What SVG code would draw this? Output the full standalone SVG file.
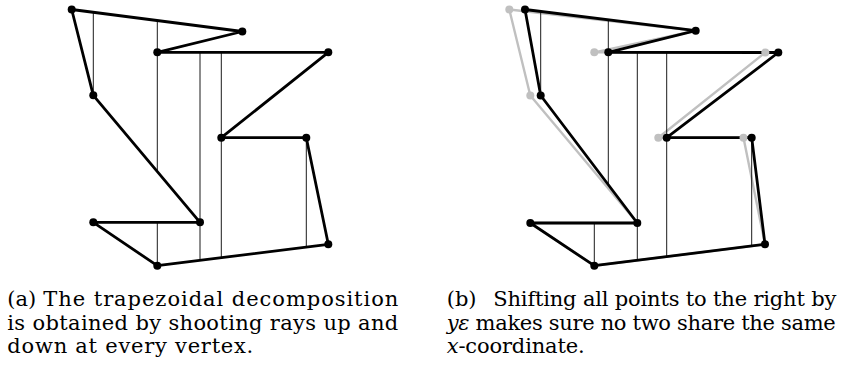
<svg xmlns="http://www.w3.org/2000/svg" width="841" height="371" viewBox="0 0 841 371">
<style>
.edge{fill:none;stroke:#000;stroke-width:2.8;stroke-linejoin:round;stroke-linecap:round}
.gedge{fill:none;stroke:#c0c0c0;stroke-width:2.4;stroke-linejoin:round;stroke-linecap:round}
.ray{stroke:#000;stroke-width:0.9;fill:none}
.v{fill:#000}
.gv{fill:#c0c0c0}
.it{font-style:italic}
.cap{font-family:'DejaVu Serif',serif;font-size:21px;fill:#000}
</style>
<rect width="841" height="371" fill="#fff"/>
<g id="panel-a">
<g id="connectors-a">
<line class="ray" x1="93.3" y1="12.3" x2="93.3" y2="95.3"/>
<line class="ray" x1="157.3" y1="20.5" x2="157.3" y2="171.5"/>
<line class="ray" x1="157.3" y1="222.3" x2="157.3" y2="265.7"/>
<line class="ray" x1="200" y1="52.3" x2="200" y2="260.4"/>
<line class="ray" x1="221.3" y1="52.3" x2="221.3" y2="257.7"/>
<line class="ray" x1="306.3" y1="137.7" x2="306.3" y2="247.1"/>
<polygon class="edge" points="71.7,9.5 242.3,31.5 157.3,52.3 328.3,52.3 221.3,137.7 306.3,137.7 328.3,244.3 157.3,265.7 93.3,222.3 200,222.3 93.3,95.3"/>
</g>
<g id="a-A"><circle class="v" cx="71.7" cy="9.5" r="4"/></g>
<g id="a-B"><circle class="v" cx="242.3" cy="31.5" r="4"/></g>
<g id="a-C"><circle class="v" cx="157.3" cy="52.3" r="4"/></g>
<g id="a-D"><circle class="v" cx="328.3" cy="52.3" r="4"/></g>
<g id="a-E"><circle class="v" cx="221.3" cy="137.7" r="4"/></g>
<g id="a-F"><circle class="v" cx="306.3" cy="137.7" r="4"/></g>
<g id="a-G"><circle class="v" cx="328.3" cy="244.3" r="4"/></g>
<g id="a-H"><circle class="v" cx="157.3" cy="265.7" r="4"/></g>
<g id="a-I"><circle class="v" cx="93.3" cy="222.3" r="4"/></g>
<g id="a-J"><circle class="v" cx="200" cy="222.3" r="4"/></g>
<g id="a-K"><circle class="v" cx="93.3" cy="95.3" r="4"/></g>
</g>
<g id="panel-b">
<g id="connectors-b">
<polygon class="gedge" points="509.3,9.5 695.7,30.7 594.3,52.3 765.3,52.5 658.3,137.7 743.5,137.7 765,244.3 594.3,265.7 530.3,223 637.3,223 530.3,95.5"/>
<line class="ray" x1="540.7" y1="11.5" x2="540.7" y2="95.5"/>
<line class="ray" x1="608.3" y1="19.8" x2="608.3" y2="184.7"/>
<line class="ray" x1="594.3" y1="223" x2="594.3" y2="265.7"/>
<line class="ray" x1="637.3" y1="52.3" x2="637.3" y2="260.3"/>
<line class="ray" x1="666.7" y1="52.3" x2="666.7" y2="256.6"/>
<line class="ray" x1="751.7" y1="137.7" x2="751.7" y2="246"/>
<polygon class="edge" points="525,9.5 695.7,30.7 608.3,52.3 778.3,52.5 666.7,137.7 751.7,137.7 765,244.3 594.3,265.7 530.3,223 637.3,223 540.7,95.5"/>
</g>
<g id="b-gA"><circle class="gv" cx="509.3" cy="9.5" r="4"/></g>
<g id="b-gC"><circle class="gv" cx="594.3" cy="52.3" r="4"/></g>
<g id="b-gD"><circle class="gv" cx="765.3" cy="52.5" r="4"/></g>
<g id="b-gE"><circle class="gv" cx="658.3" cy="137.7" r="4"/></g>
<g id="b-gF"><circle class="gv" cx="743.5" cy="137.7" r="4"/></g>
<g id="b-gK"><circle class="gv" cx="530.3" cy="95.5" r="4"/></g>
<g id="b-A"><circle class="v" cx="525" cy="9.5" r="4"/></g>
<g id="b-B"><circle class="v" cx="695.7" cy="30.7" r="4"/></g>
<g id="b-C"><circle class="v" cx="608.3" cy="52.3" r="4"/></g>
<g id="b-D"><circle class="v" cx="778.3" cy="52.5" r="4"/></g>
<g id="b-E"><circle class="v" cx="666.7" cy="137.7" r="4"/></g>
<g id="b-F"><circle class="v" cx="751.7" cy="137.7" r="4"/></g>
<g id="b-G"><circle class="v" cx="765" cy="244.3" r="4"/></g>
<g id="b-H"><circle class="v" cx="594.3" cy="265.7" r="4"/></g>
<g id="b-I"><circle class="v" cx="530.3" cy="223" r="4"/></g>
<g id="b-J"><circle class="v" cx="637.3" cy="223" r="4"/></g>
<g id="b-K"><circle class="v" cx="540.7" cy="95.5" r="4"/></g>
</g>
<g id="captions">
<text class="cap" x="7.3" y="306">(a)</text>
<text class="cap" x="43.3" y="306" textLength="355" lengthAdjust="spacing">The trapezoidal decomposition</text>
<text class="cap" x="7.3" y="329.5" textLength="391" lengthAdjust="spacing">is obtained by shooting rays up and</text>
<text class="cap" x="7.3" y="353" textLength="246" lengthAdjust="spacing">down at every vertex.</text>
<text class="cap" x="446.7" y="306">(b)</text>
<text class="cap" x="493.3" y="306" textLength="343" lengthAdjust="spacing">Shifting all points to the right by</text>
<text class="cap" x="446.7" y="329.5" textLength="389" lengthAdjust="spacing"><tspan class="it">yε</tspan> makes sure no two share the same</text>
<text class="cap" x="446.7" y="353" textLength="138" lengthAdjust="spacing"><tspan class="it">x</tspan>-coordinate.</text>
</g>
</svg>
